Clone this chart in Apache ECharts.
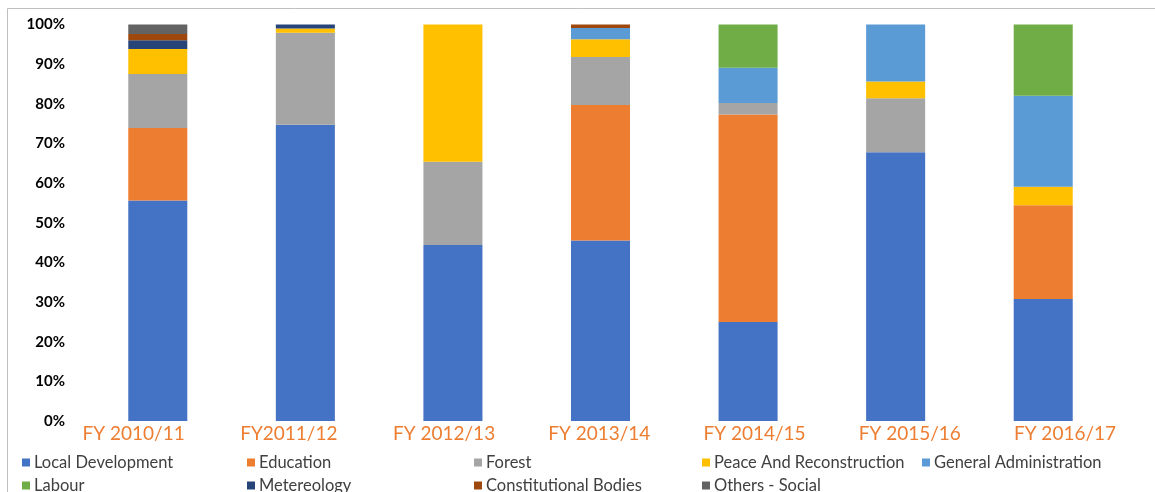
<!DOCTYPE html>
<html><head><meta charset="utf-8">
<script src="https://cdn.jsdelivr.net/npm/echarts@6/dist/echarts.min.js"></script>
<style>html,body{margin:0;padding:0;background:#fff}#c{width:1155px;height:492px}</style>
</head><body><div id="c"></div>
<script>
const categories = ['FY 2010/11','FY2011/12','FY 2012/13','FY 2013/14','FY 2014/15','FY 2015/16','FY 2016/17'];
const seriesNames = ['Local Development','Education','Forest','Peace And Reconstruction','General Administration','Labour','Metereology','Constitutional Bodies','Others - Social'];
const colors = ['#4472C4','#ED7D31','#A5A5A5','#FFC000','#5B9BD5','#70AD47','#264478','#9E480E','#636363'];
const localDevelopment = [55.6, 74.7, 44.4, 45.5, 25.0, 67.8, 30.8];
const education        = [18.3, 0,    0,    34.2, 52.3, 0,    23.6];
const forest           = [13.6, 23.2, 21.0, 12.1, 2.9,  13.6, 0];
const peace            = [6.3,  1.1,  34.6, 4.5,  0,    4.2,  4.7];
const generalAdmin     = [0,    0,    0,    2.8,  8.9,  14.4, 22.9];
const labour           = [0,    0,    0,    0,    10.9, 0,    18.0];
const metereology      = [2.2,  1.0,  0,    0,    0,    0,    0];
const constitutional   = [1.6,  0,    0,    0.9,  0,    0,    0];
const othersSocial     = [2.4,  0,    0,    0,    0,    0,    0];
const yTicks = ['0%','10%','20%','30%','40%','50%','60%','70%','80%','90%','100%'];

const allData = [localDevelopment, education, forest, peace, generalAdmin, labour, metereology, constitutional, othersSocial];
const font = 'Lato, "Noto Sans", sans-serif';
const legendPos = [[22,454],[247,454],[474,454],[702,454],[922,454],[22,477],[247,477],[474,477],[702,477]];

const chart = echarts.init(document.getElementById('c'), null, {renderer:'canvas'});
chart.setOption({
  animation:false,
  grid:[{left:84, right:38, top:24.5, bottom:71},
        {left:56, right:12.4, top:24.5, bottom:71}],
  xAxis:[{type:'category', data:categories, gridIndex:0,
    axisLine:{show:false}, axisTick:{show:false}, axisLabel:{show:false}},
    {type:'category', data:categories, gridIndex:1,
    axisLine:{show:false}, axisTick:{show:false},
    axisLabel:{color:'#ED7D31', fontSize:19, fontFamily:font, margin:3}}],
  yAxis:[{type:'value', min:0, max:100, interval:10, gridIndex:0,
    axisLine:{show:false}, axisTick:{show:false}, splitLine:{show:false},
    axisLabel:{formatter:(v)=>yTicks[Math.round(v/10)], color:'#000', fontWeight:'bold', fontSize:15, fontFamily:font, margin:19}},
    {type:'value', min:0, max:100, interval:10, gridIndex:1, show:false}],
  legend: seriesNames.map((n,i)=>({data:[n], left:legendPos[i][0], top:legendPos[i][1],
    itemWidth:8, itemHeight:8, itemGap:4, icon:'rect', padding:0,
    textStyle:{color:'#404040', fontSize:16.5, fontFamily:font, padding:[0,0,0,-1]}})),
  graphic:[{type:'rect', shape:{x:7.5,y:8.5,width:1300,height:700}, style:{fill:'none', stroke:'#BFBFBF', lineWidth:1}, silent:true}],
  series: seriesNames.map((n,i)=>({name:n, type:'bar', stack:'total', barWidth:'40%',
    xAxisIndex:0, yAxisIndex:0,
    itemStyle:{color:colors[i]}, data:allData[i]}))
});
</script></body></html>
